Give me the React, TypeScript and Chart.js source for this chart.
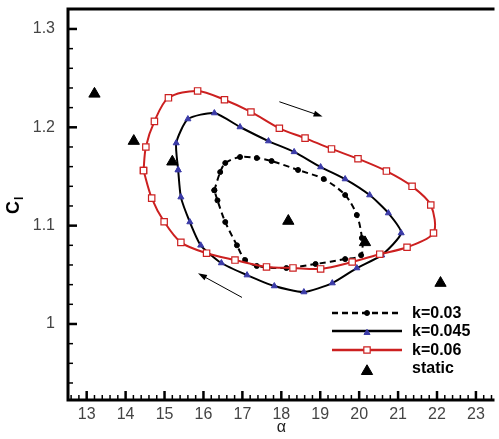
import React, { useEffect, useRef } from 'react';
import { Chart, registerables } from 'chart.js';

Chart.register(...registerables);

// ---- data (alpha in degrees, Cl) ----
const k003Alpha = [16.28, 16.43, 16.56, 16.94, 17.37, 17.75, 18.43, 19.09, 19.64, 19.94, 20.07, 20.05, 19.64, 18.88, 18.13, 17.37, 17.07, 16.86, 16.56, 16.36, 16.28];
const k003Cl = [1.136, 1.1545, 1.1637, 1.1698, 1.1688, 1.1657, 1.1566, 1.1474, 1.1311, 1.1108, 1.0874, 1.07, 1.066, 1.061, 1.0569, 1.059, 1.065, 1.08, 1.1037, 1.1257, 1.136];

const k0045Alpha = [15.35, 15.3, 15.6, 16.28, 16.94, 17.67, 18.33, 19.01, 19.64, 20.27, 20.75, 21.08, 20.58, 19.94, 19.31, 18.58, 17.82, 17.12, 16.46, 15.93, 15.65, 15.42, 15.35];
const k0045Cl = [1.1566, 1.184, 1.2084, 1.2145, 1.2003, 1.186, 1.175, 1.1596, 1.1474, 1.1311, 1.1128, 1.0925, 1.07, 1.0569, 1.0416, 1.0325, 1.0386, 1.0497, 1.062, 1.08, 1.1037, 1.129, 1.1566];

const k006Alpha = [14.46, 14.52, 14.74, 15.1, 15.85, 16.54, 17.22, 17.95, 18.61, 19.29, 19.97, 20.7, 21.36, 21.84, 21.91, 21.23, 20.53, 19.82, 19.01, 18.3, 17.62, 16.81, 16.08, 15.42, 14.99, 14.67, 14.46];
const k006Cl = [1.156, 1.18, 1.206, 1.23, 1.237, 1.228, 1.2156, 1.199, 1.189, 1.178, 1.168, 1.1555, 1.14, 1.121, 1.0925, 1.078, 1.071, 1.063, 1.056, 1.057, 1.058, 1.065, 1.072, 1.083, 1.104, 1.128, 1.156];

const staticAlpha = [13.2, 14.21, 15.2, 18.18, 20.15, 22.09];
const staticCl = [1.234, 1.186, 1.165, 1.1047, 1.083, 1.0416];

const seriesLabels = ['k=0.03', 'k=0.045', 'k=0.06', 'static'];

const xTickValues = [13, 14, 15, 16, 17, 18, 19, 20, 21, 22, 23];
const yTickValues = [1.0, 1.1, 1.2, 1.3];
const yTickLabels = ['1', '1.1', '1.2', '1.3'];

// direction arrows (data coordinates)
const arrowFromAlpha = [17.95, 16.99];
const arrowFromCl = [1.226, 1.027];
const arrowToAlpha = [19.06, 15.86];
const arrowToCl = [1.211, 1.0515];

const X_MIN = 12.52;
const X_MAX = 23.4;
const Y_MIN = 0.9227;
const Y_MAX = 1.3203;

const toPts = (xs: number[], ys: number[]) => xs.map((x, i) => ({ x, y: ys[i] }));

const FONT = '"Liberation Sans", Arial, sans-serif';

const decoPlugin = {
  id: 'deco',
  afterDraw(chart: any) {
    const { ctx, chartArea: a, scales } = chart;
    const xs = scales.x;
    const ys = scales.y;
    ctx.save();
    // arrows
    ctx.strokeStyle = '#000';
    ctx.fillStyle = '#000';
    ctx.lineWidth = 1;
    for (let i = 0; i < arrowFromAlpha.length; i++) {
      const x1 = xs.getPixelForValue(arrowFromAlpha[i]);
      const y1 = ys.getPixelForValue(arrowFromCl[i]);
      const x2 = xs.getPixelForValue(arrowToAlpha[i]);
      const y2 = ys.getPixelForValue(arrowToCl[i]);
      const ang = Math.atan2(y2 - y1, x2 - x1);
      ctx.beginPath();
      ctx.moveTo(x1, y1);
      ctx.lineTo(x2 - 6 * Math.cos(ang), y2 - 6 * Math.sin(ang));
      ctx.stroke();
      ctx.beginPath();
      ctx.moveTo(x2, y2);
      ctx.lineTo(x2 - 9 * Math.cos(ang) + 3 * Math.sin(ang), y2 - 9 * Math.sin(ang) - 3 * Math.cos(ang));
      ctx.lineTo(x2 - 9 * Math.cos(ang) - 3 * Math.sin(ang), y2 - 9 * Math.sin(ang) + 3 * Math.cos(ang));
      ctx.closePath();
      ctx.fill();
    }
    // frame
    ctx.strokeStyle = '#000';
    ctx.lineWidth = 3;
    ctx.beginPath();
    ctx.moveTo(a.left, a.bottom);
    ctx.lineTo(a.left, a.top);
    ctx.lineTo(a.right + 3, a.top);
    ctx.moveTo(a.left - 1.5, a.bottom);
    ctx.lineTo(a.right + 3, a.bottom);
    ctx.stroke();
    // x ticks (inward)
    for (let i = 63; i <= 117; i++) {
      const v = i / 5;
      const px = xs.getPixelForValue(v);
      if (px < a.left + 2 || px > a.right) continue;
      const major = i % 5 === 0;
      ctx.lineWidth = major ? 2.5 : 1.5;
      ctx.beginPath();
      ctx.moveTo(px, a.bottom);
      ctx.lineTo(px, a.bottom - (major ? 9 : 5));
      ctx.stroke();
    }
    // y ticks (inward)
    for (let i = 47; i <= 66; i++) {
      const v = i / 50;
      const py = ys.getPixelForValue(v);
      if (py > a.bottom - 2 || py < a.top) continue;
      const major = i % 5 === 0;
      ctx.lineWidth = major ? 2.5 : 1.5;
      ctx.beginPath();
      ctx.moveTo(a.left, py);
      ctx.lineTo(a.left + (major ? 9 : 5), py);
      ctx.stroke();
    }
    // axis titles
    ctx.fillStyle = '#222';
    ctx.font = `16px ${FONT}`;
    ctx.textAlign = 'center';
    ctx.textBaseline = 'middle';
    ctx.fillText('\u03b1', xs.getPixelForValue(18), 428);
    ctx.save();
    ctx.translate(14, 208);
    ctx.rotate(-Math.PI / 2);
    ctx.fillStyle = '#000';
    ctx.font = `bold 18px ${FONT}`;
    ctx.textAlign = 'left';
    ctx.textBaseline = 'middle';
    ctx.fillText('C', -6, 0);
    const cw = ctx.measureText('C').width;
    ctx.font = `bold 12px ${FONT}`;
    ctx.fillText('l', -6 + cw + 1, 6);
    ctx.restore();
    // legend
    const rowsY = [313, 331, 350, 368];
    const lx1 = 332;
    const lx2 = 402;
    const tx = 412;
    chart.data.datasets.forEach((ds: any, i: number) => {
      const yy = rowsY[i];
      if (ds.showLine !== false) {
        ctx.save();
        ctx.strokeStyle = ds.borderColor;
        ctx.lineWidth = ds.borderWidth + 0.5;
        ctx.setLineDash(ds.borderDash || []);
        ctx.beginPath();
        ctx.moveTo(lx1, yy);
        ctx.lineTo(lx2, yy);
        ctx.stroke();
        ctx.restore();
      }
      const cx = (lx1 + lx2) / 2;
      const r = ds.pointRadius;
      ctx.save();
      ctx.fillStyle = ds.pointBackgroundColor;
      ctx.strokeStyle = ds.pointBorderColor;
      ctx.lineWidth = ds.pointBorderWidth || 1;
      ctx.beginPath();
      if (ds.pointStyle === 'circle') {
        ctx.arc(cx, yy, r, 0, Math.PI * 2);
      } else if (ds.pointStyle === 'rect') {
        const s = Math.SQRT1_2 * r;
        ctx.rect(cx - s, yy - s, 2 * s, 2 * s);
      } else {
        for (let k = 0; k < 3; k++) {
          const ang = (k * 2 * Math.PI) / 3;
          const px = cx + Math.sin(ang) * r;
          const py = yy + r / 2 - Math.cos(ang) * r;
          if (k === 0) ctx.moveTo(px, py);
          else ctx.lineTo(px, py);
        }
        ctx.closePath();
      }
      ctx.fill();
      ctx.stroke();
      ctx.restore();
      ctx.fillStyle = '#000';
      ctx.font = `bold 16px ${FONT}`;
      ctx.textAlign = 'left';
      ctx.textBaseline = 'middle';
      ctx.fillText(ds.label, tx, yy + 1);
    });
    ctx.restore();
  },
};

export default function App() {
  const ref = useRef<HTMLCanvasElement | null>(null);
  useEffect(() => {
    if (!ref.current) return;
    const chart = new Chart(ref.current, {
      type: 'line',
      data: {
        datasets: [
          {
            label: seriesLabels[0],
            data: toPts(k003Alpha, k003Cl),
            borderColor: '#000',
            borderWidth: 2,
            borderDash: [6, 4],
            pointStyle: 'circle',
            pointRadius: 2.5,
            pointBackgroundColor: '#000',
            pointBorderColor: '#000',
            pointBorderWidth: 1,
            tension: 0.3,
            fill: false,
            order: 3,
          },
          {
            label: seriesLabels[1],
            data: toPts(k0045Alpha, k0045Cl),
            borderColor: '#000',
            borderWidth: 2,
            pointStyle: 'triangle',
            pointRadius: 3.5,
            pointBackgroundColor: '#3b3ba8',
            pointBorderColor: '#3b3ba8',
            pointBorderWidth: 1,
            tension: 0.2,
            fill: false,
            order: 2,
          },
          {
            label: seriesLabels[2],
            data: toPts(k006Alpha, k006Cl),
            borderColor: '#cc2020',
            borderWidth: 2,
            pointStyle: 'rect',
            pointRadius: 4.5,
            pointBackgroundColor: '#ffffff',
            pointBorderColor: '#cc2020',
            pointBorderWidth: 1.2,
            tension: 0.3,
            fill: false,
            order: 1,
          },
          {
            label: seriesLabels[3],
            data: toPts(staticAlpha, staticCl),
            showLine: false,
            borderColor: '#000',
            borderWidth: 0,
            pointStyle: 'triangle',
            pointRadius: 6.5,
            pointBackgroundColor: '#000',
            pointBorderColor: '#000',
            pointBorderWidth: 1,
            order: 0,
          },
        ],
      },
      options: {
        animation: false,
        responsive: false,
        maintainAspectRatio: false,
        layout: { padding: { top: 9, left: 0, right: 0, bottom: 0 } },
        plugins: { legend: { display: false }, tooltip: { enabled: false } },
        scales: {
          x: {
            type: 'linear',
            min: X_MIN,
            max: X_MAX,
            grid: { display: false },
            border: { display: false },
            afterBuildTicks: (s: any) => {
              s.ticks = xTickValues.map((v) => ({ value: v }));
            },
            afterFit: (s: any) => {
              s.height = 39;
              s.paddingLeft = 0;
              s.paddingRight = 0;
            },
            ticks: {
              autoSkip: false,
              maxRotation: 0,
              padding: -3,
              color: '#444',
              font: { family: FONT, size: 16 },
              callback: (v: any) => String(v),
            },
          },
          y: {
            type: 'linear',
            min: Y_MIN,
            max: Y_MAX,
            grid: { display: false },
            border: { display: false },
            afterBuildTicks: (s: any) => {
              s.ticks = yTickValues.map((v) => ({ value: v }));
            },
            afterFit: (s: any) => {
              s.width = 68;
              s.paddingTop = 0;
              s.paddingBottom = 0;
            },
            ticks: {
              autoSkip: false,
              padding: 5,
              color: '#444',
              font: { family: FONT, size: 16 },
              callback: (v: any) => {
                const idx = yTickValues.findIndex((t) => Math.abs(t - v) < 1e-6);
                return idx >= 0 ? yTickLabels[idx] : '';
              },
            },
          },
        },
      },
      plugins: [decoPlugin],
    } as any);
    return () => chart.destroy();
  }, []);
  return (
    <div style={{ position: 'fixed', left: 0, top: 0, width: 499, height: 439, background: '#fff' }}>
      <canvas ref={ref} width={499} height={439} style={{ display: 'block' }} />
    </div>
  );
}
